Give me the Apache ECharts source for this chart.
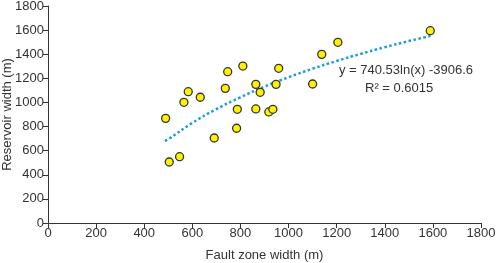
<!DOCTYPE html>
<html>
<head>
<meta charset="utf-8">
<script src="https://cdn.jsdelivr.net/npm/echarts@6/dist/echarts.min.js"></script>
<style>
  html, body { margin: 0; padding: 0; background: #fff; }
  #chart { width: 498px; height: 263px; }
</style>
</head>
<body>
<div id="chart"></div>
<script>
// measured points: fault zone width (m) vs reservoir width (m)
const faultWidth = [489, 565, 583, 633, 504, 547, 691, 747, 737, 810, 787, 784, 864, 882, 864, 918, 935, 948, 959, 1100, 1138, 1205, 1589]
const reservoirWidth = [868, 1001, 1089, 1043, 506, 550, 705, 1255, 1117, 1302, 943, 786, 1150, 1084, 946, 921, 943, 1150, 1283, 1153, 1399, 1499, 1595]

// trend curve
const trendX = [486, 500, 600, 700, 800, 900, 1000, 1100, 1200, 1300, 1400, 1500, 1590]
const trendY = [680, 695, 830, 945, 1043, 1131, 1209, 1280, 1344, 1403, 1458, 1509, 1552]

const xTicks = { min: 0, max: 1800, interval: 200 }
const yTicks = { min: 0, max: 1800, interval: 200 }

const eqText = 'y = 740.53ln(x) -3906.6'
const r2Text = 'R² = 0.6015'

const font = 'Arial, "Liberation Sans", sans-serif'
const axisColor = '#333'

const chart = echarts.init(document.getElementById('chart'))

const axisCommon = {
  type: 'value',
  nameLocation: 'middle',
  nameMoveOverlap: false,
  nameTextStyle: { fontSize: 13, color: axisColor, fontFamily: font },
  axisLine: { show: true, lineStyle: { color: axisColor, width: 1 } },
  axisTick: { show: true, length: 5, lineStyle: { color: axisColor } },
  axisLabel: { fontSize: 13, color: axisColor, fontFamily: font, margin: 4, formatter: (v) => String(v) },
  splitLine: { show: false }
}

chart.setOption({
  animation: false,
  grid: { left: 48, right: 17, top: 6, bottom: 40, containLabel: false, outerBoundsMode: 'none' },
  xAxis: Object.assign({}, axisCommon, {
    name: 'Fault zone width (m)',
    nameGap: 26,
    min: xTicks.min, max: xTicks.max, interval: xTicks.interval
  }),
  yAxis: Object.assign({}, axisCommon, {
    name: 'Reservoir width (m)',
    nameGap: 34,
    min: yTicks.min, max: yTicks.max, interval: yTicks.interval
  }),
  graphic: [
    {
      type: 'text', left: 339, top: 64,
      style: { text: eqText, fill: axisColor, font: '13px ' + font }
    },
    {
      type: 'text', left: 365, top: 82,
      style: { text: r2Text, fill: axisColor, font: '13px ' + font }
    }
  ],
  series: [
    {
      type: 'line',
      data: trendX.map((x, i) => [x, trendY[i]]),
      smooth: true,
      showSymbol: false,
      symbol: 'none',
      z: 1,
      lineStyle: { color: '#1a9be2', width: 2.5, type: [2.5, 2.5] }
    },
    {
      type: 'scatter',
      data: faultWidth.map((x, i) => [x, reservoirWidth[i]]),
      symbol: 'circle',
      symbolSize: 8,
      z: 2,
      itemStyle: { color: '#fff200', borderColor: '#333', borderWidth: 1.3, opacity: 1 }
    }
  ]
})
</script>
</body>
</html>
